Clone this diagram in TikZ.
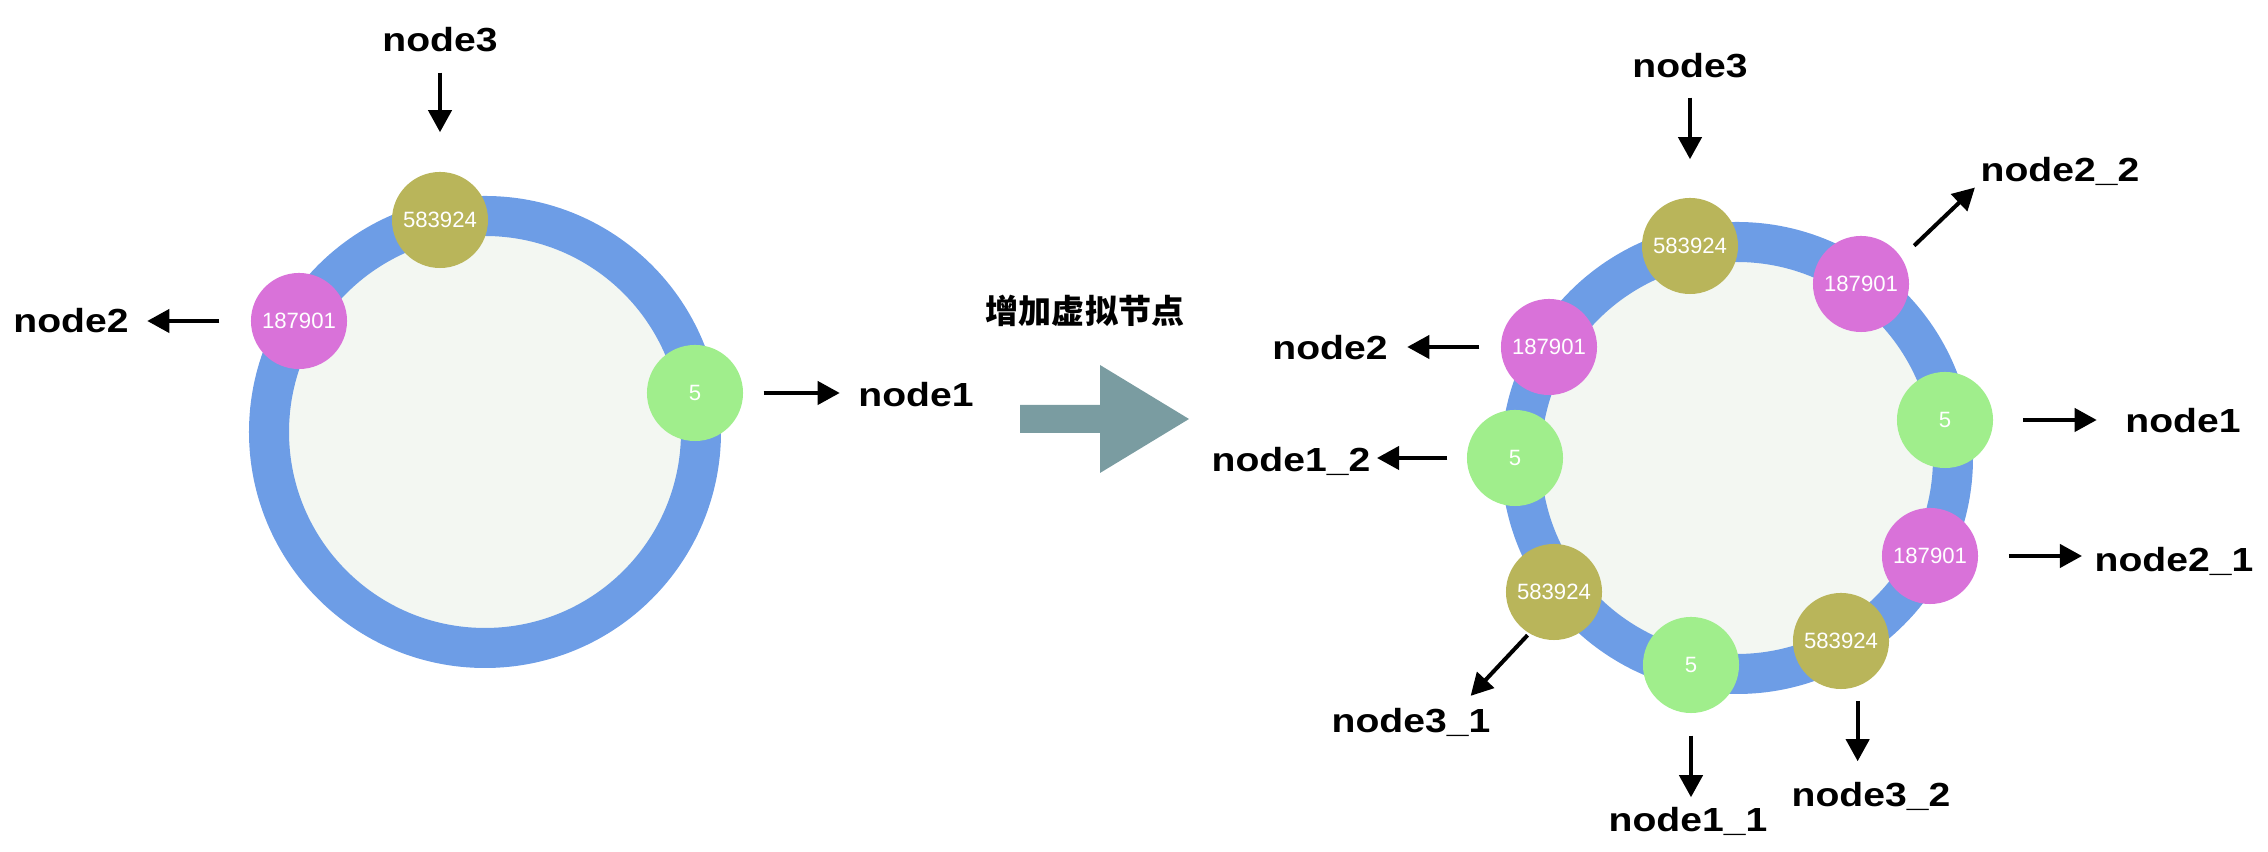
\documentclass[tikz,border=0pt]{standalone}
\usepackage{fontspec}
\setmainfont{Liberation Sans}
\newfontfamily\lblfont{Liberation Sans}[FakeStretch=1.17]
\newfontfamily\cjkfont{Noto Sans CJK SC}
\usetikzlibrary{arrows.meta,calc}

\definecolor{cring}{RGB}{109,157,230}
\definecolor{cinner}{RGB}{243,247,242}
\definecolor{colive}{RGB}{185,181,90}
\definecolor{cpink}{RGB}{217,114,217}
\definecolor{clime}{RGB}{160,238,140}
\definecolor{cteal}{RGB}{122,156,161}
\tikzset{
  ringfig/.style={x=0.01cm,y=0.01cm},
  vnode/.style={circle,minimum size=0.96cm,inner sep=0pt,text=white,font=\fontsize{6.3}{7}\selectfont},
  h5/.style={vnode,fill=clime},
  h187/.style={vnode,fill=cpink},
  h583/.style={vnode,fill=colive},
  lbl/.style={anchor=base,inner sep=0pt,text height=0.24cm,text depth=0pt,font=\lblfont\bfseries\fontsize{9.5}{11}\selectfont},
  pin/.style={-{Triangle[length=0.22cm,width=0.23cm]},line width=0.04cm,shorten <=0.2cm,shorten >=0.2cm},
}

\begin{document}
\begin{tikzpicture}[ringfig]
    \useasboundingbox (0,0) rectangle (2268,852);
    \coordinate (lc) at (485,420);
    \coordinate (rc) at (1737,394);
    \foreach \c in {lc,rc} {
      \fill[cinner] (\c) circle[radius=216];
      \draw[cring,line width=0.4cm] (\c) circle[radius=216];
    }
    % before
    \node[h583] (v3L) at (440,632) {583924};
    \node[h187] (v2L) at (299,531) {187901};
    \node[h5]   (v1L) at (695,459) {5};
    \node[lbl] (t3L) at (440,800) {node3};
    \node[lbl] (t2L) at (71,519)  {node2};
    \node[lbl] (t1L) at (916,445) {node1};
    \draw[pin,shorten >=0.39cm] (t3L) -- (v3L);
    \draw[pin,shorten <=0.31cm,shorten >=0.18cm] (v2L) -- (v2L -| t2L.east);
    \draw[pin,shorten >=0.18cm] (v1L) -- (v1L -| t1L.west);
    % step
    \node[font=\cjkfont\bfseries\fontsize{9.4}{11}\selectfont] (add) at (1085,541) {增加虚拟节点};
    \fill[cteal] (1020,419) -- (1100,419) -- (1100,379) -- (1189,433) -- (1100,487) -- (1100,447) -- (1020,447) -- cycle;
    % after
    \node[h583] (v3)  at (1690,606) {583924};
    \node[h187] (v22) at (1861,568) {187901};
    \node[h187] (v2)  at (1549,505) {187901};
    \node[h5]   (v1)  at (1945,432) {5};
    \node[h5]   (v12) at (1515,394) {5};
    \node[h187] (v21) at (1930,296) {187901};
    \node[h583] (v31) at (1554,260) {583924};
    \node[h583] (v32) at (1841,211) {583924};
    \node[h5]   (v11) at (1691,187) {5};
    \node[lbl] (t3)  at (1690,774) {node3};
    \node[lbl] (t2)  at (1330,492) {node2};
    \node[lbl] (t12) at (1291,380) {node1\_2};
    \node[lbl] (t22) at (2060,670) {node2\_2};
    \node[lbl] (t1)  at (2183,419) {node1};
    \node[lbl] (t21) at (2174,280) {node2\_1};
    \node[lbl] (t31) at (1411,119) {node3\_1};
    \node[lbl] (t11) at (1688,20)  {node1\_1};
    \node[lbl] (t32) at (1871,45)  {node3\_2};
    \draw[pin,shorten <=0.19cm,shorten >=0.38cm] (t3) -- (v3);
    \draw[pin,shorten <=0.21cm,shorten >=0.19cm] (v2) -- (v2 -| t2.east);
    \draw[pin,shorten <=0.19cm,shorten >=0.06cm] (v12) -- (v12 -| t12.east);
    \draw[pin,shorten <=0.17cm,shorten >=0.07cm] (v22.33) -- (t22.south west);
    \draw[pin,shorten <=0.29cm,shorten >=0.28cm] (v1) -- (v1 -| t1.west);
    \draw[pin,shorten <=0.3cm,shorten >=0.12cm] (v21) -- (v21 -| t21.west);
    \draw[pin,shorten <=0.02cm,shorten >=0.17cm] (v31.239) -- ($(t31.north)!0.6!(t31.north east)$);
    \draw[pin,shorten <=0.22cm,shorten >=0.1cm] (v11) -- (v11 |- t11.north);
    \draw[pin,shorten <=0.14cm,shorten >=0.21cm] (v32.-70) -- (v32.-70 |- t32.north);
  \end{tikzpicture}
\end{document}
